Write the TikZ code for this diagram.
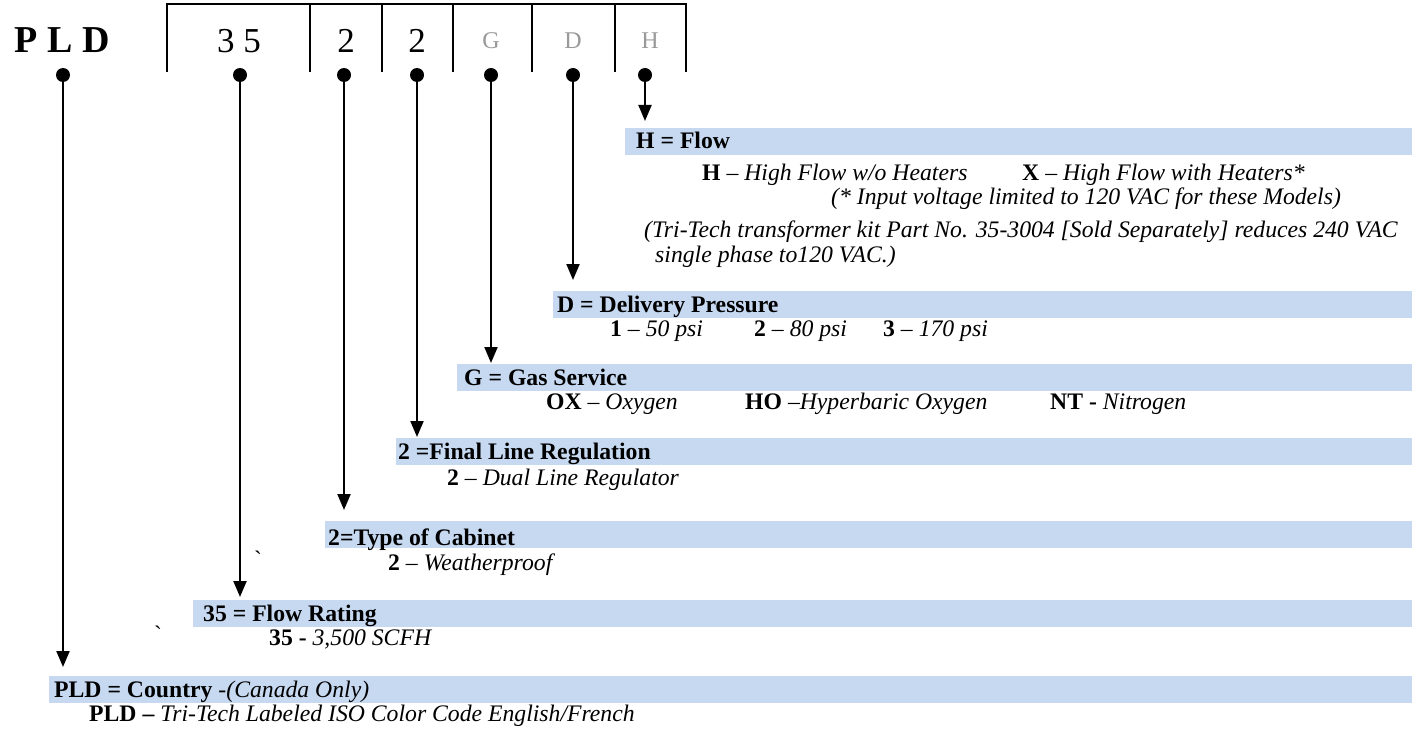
\documentclass[tikz,border=0pt]{standalone}
\usepackage{fontspec}
\setmainfont{Liberation Serif}
\usetikzlibrary{arrows.meta}
\definecolor{barblue}{RGB}{198,217,241}
\begin{document}
\begin{tikzpicture}[x=1pt,y=-1pt,
  bar/.style={fill=barblue, inner sep=0pt, minimum height=27pt, anchor=north west},
  hdr/.style={anchor=base west, inner sep=0pt, font=\fontsize{23.7}{27}\selectfont\bfseries},
  txt/.style={anchor=base west, inner sep=0pt, font=\fontsize{23.7}{27}\selectfont},
  pin/.style={circle, fill=black, inner sep=0pt, minimum size=14pt},
  lead/.style={line width=2pt, -{Triangle[length=16pt,width=13pt]}},
  code/.style={anchor=base, inner sep=0pt, font=\fontsize{35}{38}\selectfont},
  opt/.style={anchor=base, inner sep=0pt, font=\fontsize{24}{26}\selectfont, text=black!40}]
  \useasboundingbox (0,0) rectangle (1418,733);
  % Model code
  \node[code, font=\fontsize{38}{40}\selectfont\bfseries] (cPLD) at (62,53) {P L D};
  \node[code] (c35) at (239,53) {3 5};
  \node[code] (c2a) at (346,53) {2};
  \node[code] (c2b) at (417,53) {2};
  \node[opt] (cG) at (491,49) {G};
  \node[opt] (cD) at (573,49) {D};
  \node[opt] (cH) at (650,49) {H};
  % Frame round the fields
  \draw[line width=1.6pt] (167,72) -- (167,4) -- (686,4) -- (686,72);
  \foreach \xx in {310,382,453,532,615}
    \draw[line width=1.6pt] (\xx,4) -- (\xx,72);
  % Pins
  \node[pin] (pPLD) at (63,75) {};
  \node[pin] (p35) at (240,75) {};
  \node[pin] (p2a) at (344,75) {};
  \node[pin] (p2b) at (417,75) {};
  \node[pin] (pG) at (491,75) {};
  \node[pin] (pD) at (573,75) {};
  \node[pin] (pH) at (645,75) {};
  % Bars
  \node[bar, minimum width=787pt] (bH) at (625,128) {};
  \node[bar, minimum width=859pt] (bD) at (553,291) {};
  \node[bar, minimum width=955pt] (bG) at (457,364) {};
  \node[bar, minimum width=1016pt] (bF) at (396,438) {};
  \node[bar, minimum width=1087pt] (bC) at (325,521) {};
  \node[bar, minimum width=1219pt] (bR) at (193,600) {};
  \node[bar, minimum width=1363pt] (bP) at (49,676) {};
  % Leads
  \draw[lead, shorten >=7pt] (pH) -- (pH |- bH.north);
  \draw[lead, shorten >=11pt] (pD) -- (pD |- bD.north);
  \draw[lead, shorten >=1pt] (pG) -- (pG |- bG.north);
  \draw[lead, shorten >=1pt] (p2b) -- (p2b |- bF.north);
  \draw[lead, shorten >=11pt] (p2a) -- (p2a |- bC.north);
  \draw[lead, shorten >=3pt] (p35) -- (p35 |- bR.north);
  \draw[lead, shorten >=9pt] (pPLD) -- (pPLD |- bP.north);
  % H = Flow
  \node[hdr] (hH) at (636,149) {H = Flow};
  \node[txt] (tH1) at (702,180) {\textbf{H} – \textit{High Flow w/o Heaters}};
  \node[txt] (tH2) at (1022,180) {\textbf{X} – \textit{High Flow with Heaters*}};
  \node[txt] (tH3) at (831,204) {\textit{(* Input voltage limited to 120 VAC for these Models)}};
  \node[txt] (tH4) at (644,237) {\textit{(Tri-Tech transformer kit Part No. 35-3004 [Sold Separately] reduces 240 VAC}};
  \node[txt] (tH5) at (655,262) {\textit{single phase to120 VAC.)}};
  % D = Delivery Pressure
  \node[hdr] (hD) at (557,312) {D = Delivery Pressure};
  \node[txt] (tD1) at (610,336) {\textbf{1} – \textit{50 psi}};
  \node[txt] (tD2) at (754,336) {\textbf{2} – \textit{80 psi}};
  \node[txt] (tD3) at (883,336) {\textbf{3} – \textit{170 psi}};
  % G = Gas Service
  \node[hdr] (hG) at (464,385) {G = Gas Service};
  \node[txt] (tG1) at (546,409) {\textbf{OX} – \textit{Oxygen}};
  \node[txt] (tG2) at (745,409) {\textbf{HO} –\textit{Hyperbaric Oxygen}};
  \node[txt] (tG3) at (1050,409) {\textbf{NT -} \textit{Nitrogen}};
  % 2 = Final Line Regulation
  \node[hdr] (hF) at (398,459) {2 =Final Line Regulation};
  \node[txt] (tF1) at (447,485) {\textbf{2} – \textit{Dual Line Regulator}};
  % 2 = Type of Cabinet
  \node[hdr] (hC) at (328,545) {2=Type of Cabinet};
  \node[txt] (tCq) at (254,567) {\textasciigrave};
  \node[txt] (tC1) at (388,570) {\textbf{2} – \textit{Weatherproof}};
  % 35 = Flow Rating
  \node[hdr] (hR) at (203,621) {35 = Flow Rating};
  \node[txt] (tRq) at (154,642) {\textasciigrave};
  \node[txt] (tR1) at (269,645) {\textbf{35 -} \textit{3,500 SCFH}};
  % PLD = Country
  \node[hdr] (hP) at (54,697) {PLD = Country \textmd{\textit{-(Canada Only)}}};
  \node[txt] (tP1) at (89,721) {\textbf{PLD –} \textit{Tri-Tech Labeled ISO Color Code English/French}};
\end{tikzpicture}
\end{document}
